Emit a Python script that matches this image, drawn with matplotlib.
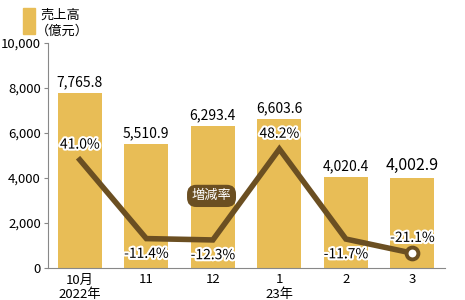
import matplotlib
matplotlib.use('Agg')
import matplotlib.pyplot as plt
import matplotlib.patheffects as pe
from matplotlib.patches import Rectangle

plt.rcParams['font.family'] = ['Noto Sans CJK JP', 'DejaVu Sans']

months = ['10月\n2022年', '11', '12', '1\n23年', '2', '3']
sales = [7765.8, 5510.9, 6293.4, 6603.6, 4020.4, 4002.9]
rate = [41.0, -11.4, -12.3, 48.2, -11.7, -21.1]
rate_pos = ['above', 'below', 'below', 'above', 'below', 'above']

bar_color = '#E8BD56'
line_color = '#6B4F22'
x = list(range(len(months)))

fig = plt.figure(figsize=(4.65, 3.0), dpi=100)
ax = fig.add_axes([0.103, 0.107, 0.854, 0.75])
ax.bar(x, sales, width=0.66, color=bar_color, zorder=1)
ax.set_xlim(-0.48, 5.49)
ax.set_ylim(0, 10000)
ax.set_yticks(range(0, 10001, 2000))
ax.set_yticklabels(['{:,}'.format(v) for v in range(0, 10001, 2000)], fontsize=9.5)
ax.set_xticks(x)
ax.set_xticklabels(months, fontsize=9.5, linespacing=1.15)
ax.tick_params(axis='x', length=0, pad=4)
ax.tick_params(axis='y', length=3, color='#888888', pad=2)
for s in ['top', 'right']:
    ax.spines[s].set_visible(False)
for s in ['left', 'bottom']:
    ax.spines[s].set_color('#888888')
    ax.spines[s].set_linewidth(0.8)

for i, v in enumerate(sales):
    fs = 11.5 if i == len(sales) - 1 else 10
    ax.text(i, v + 180, '{:,.1f}'.format(v), ha='center', va='bottom', fontsize=fs)

ax2 = ax.twinx()
ax2.set_ylim(-30.9, 118.8)
ax2.axis('off')
ax2.plot(x, rate, color=line_color, lw=4, solid_joinstyle='miter', zorder=3)
ax2.plot(x[-1], rate[-1], 'o', ms=8.5, mfc='white', mec=line_color, mew=2.8, zorder=4)
stroke = [pe.withStroke(linewidth=3, foreground='white')]
for i, (r, p) in enumerate(zip(rate, rate_pos)):
    dy = 5.5 if p == 'above' else -5.5
    ax2.text(i, r + dy, '{:.1f}%'.format(r), ha='center',
             va='bottom' if p == 'above' else 'top', fontsize=10,
             path_effects=stroke, zorder=5)
ax2.text(1.98, 17.0, '増減率', ha='center', va='center', fontsize=9.5, color='white',
         bbox=dict(boxstyle='round,pad=0.35,rounding_size=0.7', fc=line_color, ec='none'), zorder=5)

fig.patches.append(Rectangle((23 / 465, 1 - 34 / 300), 12 / 465, 26 / 300,
                             transform=fig.transFigure, color=bar_color))
fig.text(40 / 465, 1 - 15 / 300, '売上高', fontsize=9.5, va='center')
fig.text(36 / 465, 1 - 31 / 300, '（億元）', fontsize=9.5, va='center')

fig.savefig('out.png', dpi=100)
